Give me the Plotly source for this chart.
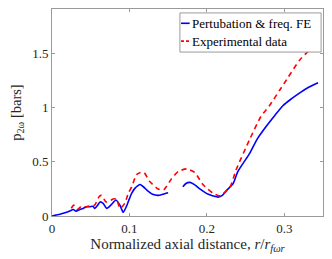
import plotly.graph_objects as go

# Perturbation & frequency FE (blue solid), gap marked by None
fe_x = [0.0, 0.005, 0.0103, 0.0168, 0.023, 0.0275, 0.031, 0.036, 0.040, 0.045, 0.049,
        0.053, 0.055, 0.059, 0.062, 0.066, 0.0706, 0.074, 0.077, 0.0826, 0.0877,
        0.092, 0.096, 0.100, 0.103, 0.107, 0.111, 0.1135, 0.118, 0.124, 0.130,
        0.137, 0.143, 0.150, None,
        0.169, 0.173, 0.178, 0.184, 0.190, 0.196, 0.202, 0.208, 0.2146, 0.220,
        0.226, 0.234, 0.240, 0.2555, 0.265, 0.277, 0.288, 0.2985, 0.309, 0.320,
        0.332, 0.3436]
fe_y = [0.0, 0.008, 0.016, 0.03, 0.046, 0.06, 0.045, 0.06, 0.07, 0.086, 0.086,
        0.09, 0.07, 0.1, 0.13, 0.117, 0.07, 0.086, 0.108, 0.148, 0.10,
        0.034, 0.086, 0.16, 0.21, 0.255, 0.28, 0.29, 0.27, 0.23, 0.2,
        0.19, 0.2, 0.215, None,
        0.27, 0.3, 0.31, 0.29, 0.255, 0.225, 0.2, 0.185, 0.174, 0.19,
        0.24, 0.30, 0.41, 0.58, 0.71, 0.83, 0.93, 1.02, 1.08, 1.136,
        1.19, 1.23]

# Experimental data (red dashed)
exp_x = [0.025, 0.028, 0.0327, 0.038, 0.044, 0.049, 0.055, 0.061, 0.064, 0.0697,
         0.075, 0.079, 0.0835, 0.0877, 0.094, 0.0985, 0.103, 0.109, 0.1135, 0.119,
         0.126, 0.137, 0.144, 0.154, 0.163, 0.174, 0.1845, 0.195, 0.208, 0.217,
         0.230, 0.238, 0.2555, 0.27, 0.281, 0.294, 0.305, 0.320, 0.333, 0.344]
exp_y = [0.07, 0.10, 0.06, 0.09, 0.085, 0.09, 0.1, 0.18, 0.19, 0.13,
         0.14, 0.157, 0.157, 0.07, 0.117, 0.21, 0.27, 0.38, 0.40, 0.40,
         0.32, 0.25, 0.24, 0.34, 0.41, 0.435, 0.40, 0.29, 0.21, 0.186,
         0.27, 0.43, 0.71, 0.92, 1.02, 1.16, 1.28, 1.44, 1.53, 1.57]

x_ticks = [0, 0.1, 0.2, 0.3]
x_tick_text = ["0", "0.1", "0.2", "0.3"]
y_ticks = [0, 0.5, 1, 1.5]
y_tick_text = ["0", "0.5", "1", "1.5"]
legend_names = ["Pertubation & freq. FE", "Experimental data"]

FONT = "Times New Roman, Liberation Serif, serif"
AX = "#9a9a9a"
TXT = "#262626"

fig = go.Figure()
fig.add_trace(go.Scatter(x=fe_x, y=fe_y, mode="lines", connectgaps=False,
                         line=dict(color="#0000ff", width=1.6, shape="spline", smoothing=0.6),
                         name=legend_names[0], showlegend=False))
fig.add_trace(go.Scatter(x=exp_x, y=exp_y, mode="lines",
                         line=dict(color="#ff0000", width=1.6, dash="5px,4px",
                                   shape="spline", smoothing=0.6),
                         name=legend_names[1], showlegend=False))

# manual legend
fig.add_shape(type="rect", xref="paper", yref="paper", x0=0.472, x1=0.993, y0=0.792, y1=0.981,
              line=dict(color=AX, width=1), fillcolor="white", layer="above")
fig.add_shape(type="line", xref="paper", yref="paper", x0=0.476, x1=0.508, y0=0.931, y1=0.931,
              line=dict(color="#0000ff", width=1.6), layer="above")
fig.add_shape(type="line", xref="paper", yref="paper", x0=0.476, x1=0.508, y0=0.845, y1=0.845,
              line=dict(color="#ff0000", width=1.6, dash="3px,2px"), layer="above")
for yy, name in zip([0.931, 0.845], legend_names):
    fig.add_annotation(xref="paper", yref="paper", x=0.509, y=yy, text=name, showarrow=False,
                       xanchor="left", yanchor="middle", font=dict(family=FONT, size=13, color="black"))

# page body has an 8px margin: shrink figure so the plot lands where the reference has it
fig.update_layout(
    width=324, height=251,
    margin=dict(l=44, r=9, t=1, b=43),
    paper_bgcolor="white", plot_bgcolor="white",
    font=dict(family=FONT, size=12, color=TXT),
    xaxis=dict(range=[0, 0.35], tickvals=x_ticks, ticktext=x_tick_text, automargin=False,
               showgrid=False, zeroline=False, showline=True, mirror="ticks",
               linecolor=AX, linewidth=1, ticks="inside", ticklen=3, tickcolor=AX,
               tickfont=dict(family=FONT, size=13, color=TXT),
               title=dict(text="Normalized axial distance, <i>r</i>/<i>r</i><sub><i>fωr</i></sub>",
                          font=dict(family=FONT, size=15, color=TXT), standoff=1)),
    yaxis=dict(range=[0, 1.91], tickvals=y_ticks, ticktext=y_tick_text, automargin=False,
               showgrid=False, zeroline=False, showline=True, mirror="ticks",
               linecolor=AX, linewidth=1, ticks="inside", ticklen=3, tickcolor=AX,
               tickfont=dict(family=FONT, size=13, color=TXT),
               title=dict(text="p<sub>2ω</sub> [bars]",
                          font=dict(family=FONT, size=14.5, color=TXT), standoff=7)),
)

fig.write_html("out.html")
